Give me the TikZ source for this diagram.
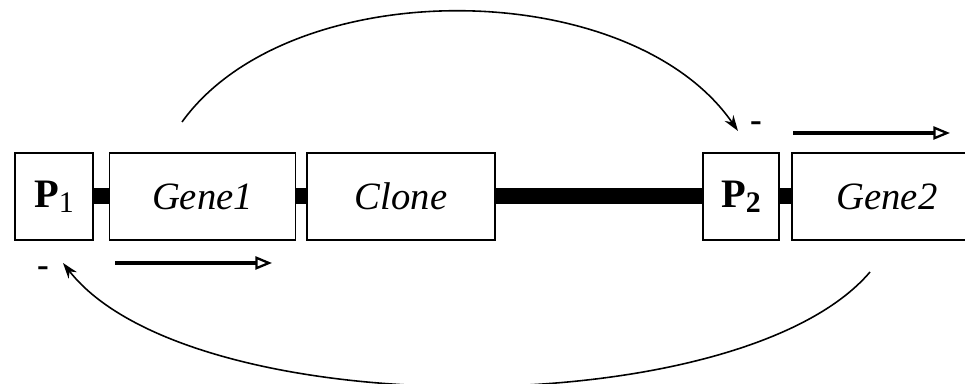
\documentclass[tikz,border=0pt]{standalone}
\usepackage{fontspec}
\setmainfont{Liberation Serif}
\usetikzlibrary{arrows.meta}
\begin{document}
\begin{tikzpicture}[x=0.02cm,y=-0.02cm,
  box/.style={draw,line width=1pt,minimum height=87*0.02cm,inner sep=0pt,
    font=\fontsize{22}{26}\selectfont\itshape},
  promoter/.style={box,font=\fontsize{23}{26}\selectfont\bfseries},
  linker/.style={line width=16*0.02cm},
  regarc/.style={line width=0.9pt,-{Stealth[length=9pt,width=6pt]}},
  direction/.style={line width=2pt,-{Triangle[open,length=9.5pt,width=7.5pt,line width=1.3pt]}},
  sign/.style={font=\fontsize{20}{20}\selectfont\bfseries,inner sep=0pt}]
\clip (0,0) rectangle (965,384);
% DNA elements
\node[promoter,minimum width=78*0.02cm] (p1) at (54,196.5) {P\raisebox{-3pt}{\fontsize{17}{17}\selectfont\mdseries 1}};
\node[box,minimum width=186*0.02cm] (gene1) at (202.5,196.5) {Gene1};
\node[box,minimum width=188*0.02cm] (clone) at (401,196.5) {Clone};
\node[promoter,minimum width=76*0.02cm] (p2) at (741,196.5) {P\raisebox{-3pt}{\fontsize{17}{17}\selectfont 2}};
\node[box,minimum width=190*0.02cm] (gene2) at (887,196.5) {Gene2};
% backbone between elements
\draw[linker] (p1.east) -- (gene1.west);
\draw[linker] (gene1.east) -- (clone.west);
\draw[linker] (clone.east) -- (p2.west);
\draw[linker] (p2.east) -- (gene2.west);
% transcription directions
\coordinate (t1s) at (115,263);
\coordinate (t1e) at (272,263);
\coordinate (t2s) at (793,133);
\coordinate (t2e) at (950,133);
\draw[direction] (t1s) -- (t1e);
\draw[direction] (t2s) -- (t2e);
% repression signs
\node[sign] (m1) at (43,272) {-};
\node[sign] (m2) at (756,127) {-};
% regulation arcs
\coordinate (a1s) at (182,122);
\coordinate (a1e) at (738,131);
\coordinate (a2s) at (870,272);
\coordinate (a2e) at (63,263);
\draw[regarc] (a1s) .. controls (290,-28) and (630,-25) .. (a1e);
\draw[regarc] (a2s) .. controls (740,425) and (190,425) .. (a2e);
\end{tikzpicture}
\end{document}
